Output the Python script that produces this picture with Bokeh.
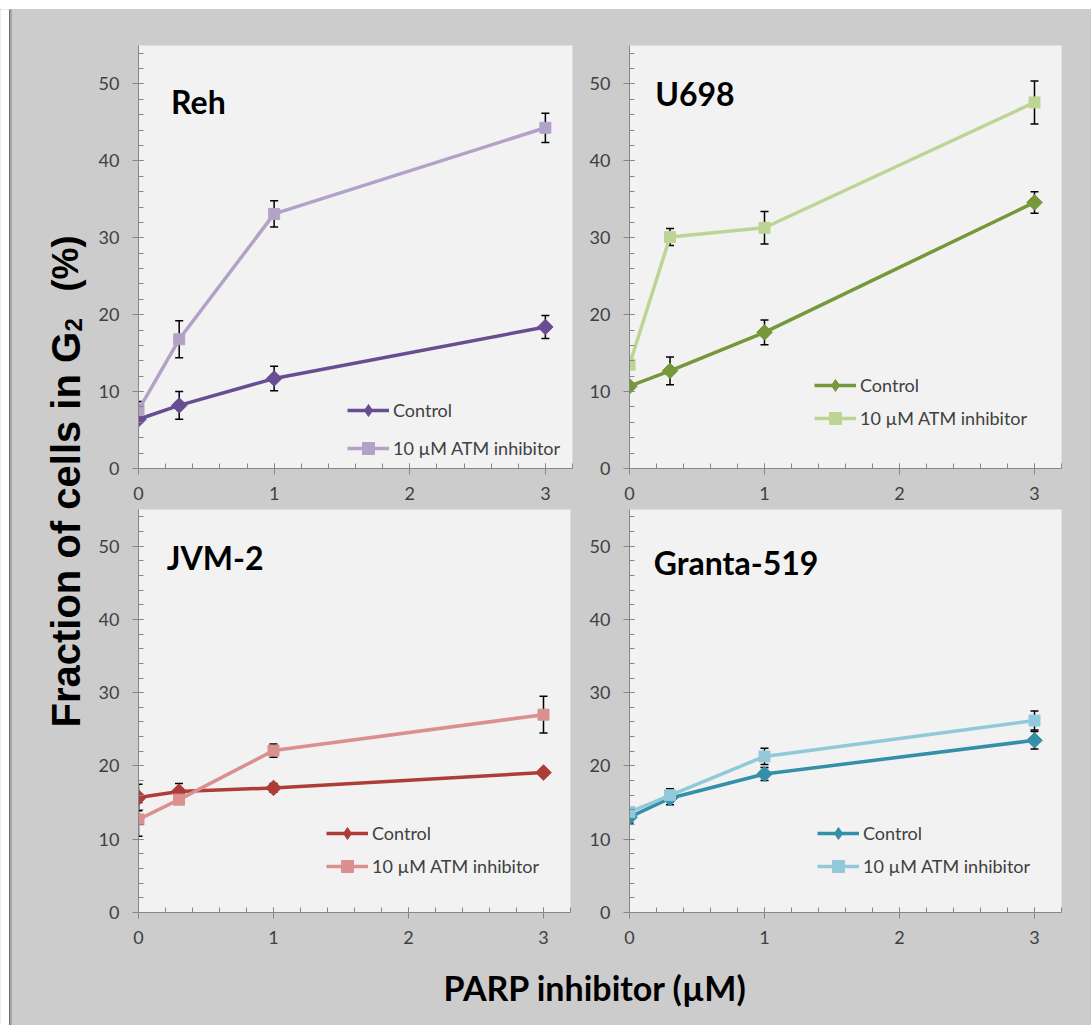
import numpy as np
from bokeh.plotting import figure
from bokeh.layouts import column, row
from bokeh.models import (Range1d, FixedTicker, Whisker, TeeHead, ColumnDataSource,
                          Label, Legend, LegendItem)
from bokeh.core.properties import value
from bokeh.embed import file_html
from bokeh.resources import INLINE

# ---------------- data ----------------
dose = [0, 0.3, 1, 3]

reh_ctrl = [6.4, 8.2, 11.7, 18.4]
reh_ctrl_err = [0.5, 1.8, 1.6, 1.5]
reh_atm = [7.6, 16.8, 33.1, 44.3]
reh_atm_err = [1.1, 2.4, 1.7, 1.9]

u698_ctrl = [10.7, 12.7, 17.7, 34.6]
u698_ctrl_err = [0.4, 1.8, 1.6, 1.4]
u698_atm = [13.5, 30.1, 31.3, 47.6]
u698_atm_err = [0.3, 1.1, 2.1, 2.8]

jvm_ctrl = [15.7, 16.5, 17.0, 19.1]
jvm_ctrl_err = [1.8, 1.1, 0.6, 0.4]
jvm_atm = [12.7, 15.4, 22.1, 27.0]
jvm_atm_err = [2.3, 0.5, 0.9, 2.5]

granta_ctrl = [13.0, 15.6, 18.9, 23.5]
granta_ctrl_err = [0.8, 0.9, 0.9, 1.2]
granta_atm = [13.7, 16.0, 21.3, 26.2]
granta_atm_err = [0.5, 0.9, 1.1, 1.3]

series_labels = ["Control", "10 \u00b5M ATM inhibitor"]
x_major = [0, 1, 2, 3]
x_minor = [round(0.2 * i, 1) for i in range(17)]
y_major = [0, 10, 20, 30, 40, 50]
y_minor = list(range(0, 56, 2))

TICK_FONT = "Lato"
BG = "#cccccc"
AX = "#868686"


def panel(title, ctrl, ctrl_err, atm, atm_err, c_ctrl, c_atm,
          title_xy, legend_loc, legend_spacing,
          mb_left, mb_right, mb_top, mb_bottom, fw, fh):
    p = figure(frame_width=fw, frame_height=fh,
               x_range=Range1d(0, 3.2), y_range=Range1d(0, 55),
               min_border_left=mb_left, min_border_right=mb_right,
               min_border_top=mb_top, min_border_bottom=mb_bottom,
               output_backend="svg", toolbar_location=None,
               background_fill_color="#f2f2f2", border_fill_color=BG,
               outline_line_color=None)
    p.grid.visible = False
    # off-frame range used only so that legend keys can show a diamond
    p.extra_x_ranges = {"key": Range1d(100, 101)}
    p.xaxis.ticker = FixedTicker(ticks=x_major, minor_ticks=x_minor)
    p.yaxis.ticker = FixedTicker(ticks=y_major, minor_ticks=y_minor)
    for ax in (p.xaxis[0], p.yaxis[0]):
        ax.axis_line_color = AX
        ax.major_tick_line_color = AX
        ax.minor_tick_line_color = AX
        ax.major_tick_out = 6
        ax.major_tick_in = 5
        ax.minor_tick_in = 5
        ax.minor_tick_out = 0
        ax.major_label_text_font = TICK_FONT
        ax.major_label_text_font_size = "18px"
        ax.major_label_text_color = "#404040"
    p.xaxis.major_label_standoff = 12
    p.yaxis.major_label_standoff = 13

    # error bars
    for vals, errs in ((ctrl, ctrl_err), (atm, atm_err)):
        src = ColumnDataSource(dict(
            base=dose,
            upper=[v + e for v, e in zip(vals, errs)],
            lower=[v - e for v, e in zip(vals, errs)]))
        w = Whisker(source=src, base="base", upper="upper", lower="lower",
                    line_color="black", line_width=1.5,
                    upper_head=TeeHead(size=8, line_color="black", line_width=1.5),
                    lower_head=TeeHead(size=8, line_color="black", line_width=1.5))
        p.add_layout(w)

    l1 = p.line(dose, ctrl, line_color=c_ctrl, line_width=3.5)
    p.scatter(dose, ctrl, marker="square", angle=np.pi / 4, size=11,
              fill_color=c_ctrl, line_color=c_ctrl)
    k1 = p.scatter(dose, ctrl, marker="diamond", size=11, x_range_name="key",
                   fill_color=c_ctrl, line_color=c_ctrl)
    l2 = p.line(dose, atm, line_color=c_atm, line_width=3.5)
    s2 = p.scatter(dose, atm, marker="square", size=11,
                   fill_color=c_atm, line_color=c_atm)

    p.add_layout(Label(x=title_xy[0], y=title_xy[1], text=title,
                       text_font="Lato", text_font_style="bold",
                       text_font_size="32px", text_color="black",
                       text_baseline="alphabetic"))

    leg = Legend(items=[LegendItem(label=series_labels[0], renderers=[l1, k1]),
                        LegendItem(label=series_labels[1], renderers=[l2, s2])],
                 location=legend_loc, orientation="vertical",
                 glyph_width=42, glyph_height=30, label_height=30,
                 spacing=legend_spacing, padding=0, margin=0,
                 label_standoff=4, border_line_color=None,
                 background_fill_alpha=0,
                 label_text_font="Lato", label_text_font_size="18px",
                 label_text_color="#404040")
    p.add_layout(leg)
    return p


tl = panel("Reh", reh_ctrl, reh_ctrl_err, reh_atm, reh_atm_err,
           "#694d92", "#b3a2c7", (0.24, 47.7), (209, 5), 8,
           48, 14, 36, 40, 434, 423)
tr = panel("U698", u698_ctrl, u698_ctrl_err, u698_atm, u698_atm_err,
           "#76983a", "#bcd595", (0.19, 48.8), (185, 35), 3,
           41, 32, 36, 40, 432, 423)
bl = panel("JVM-2", jvm_ctrl, jvm_ctrl_err, jvm_atm, jvm_atm_err,
           "#ae3d3a", "#d9908f", (0.21, 48.5), (188, 31), 3,
           48, 16, 1, 40, 432, 403)
br = panel("Granta-519", granta_ctrl, granta_ctrl_err, granta_atm, granta_atm_err,
           "#3490a8", "#92c9da", (0.18, 47.8), (188, 31), 3,
           42, 31, 1, 40, 432, 403)


def blank(w, h, xr, yr, bg=BG):
    f = figure(width=w, height=h, x_range=Range1d(*xr), y_range=Range1d(*yr),
               min_border=0, x_axis_location=None, y_axis_location=None,
               toolbar_location=None, output_backend="svg",
               background_fill_color=bg, border_fill_color=bg,
               outline_line_color=None)
    f.grid.visible = False
    return f


# top white strip with frame line
top = blank(1091, 9, (0, 1091), (0, 9), bg="white")
top.quad(left=[9], right=[1091], bottom=[1], top=[2], color="#707070")
top.quad(left=[10], right=[1091], bottom=[0], top=[1], color="#a6a6a6")

# left strip with frame line and y-axis title
left = blank(90, 1016, (0, 90), (0, 1016))
left.quad(left=[0], right=[9], bottom=[0], top=[1016], color="white")
left.quad(left=[9], right=[10], bottom=[0], top=[1016], color="#707070")
left.quad(left=[10], right=[11], bottom=[0], top=[1016], color="#a6a6a6")
left.text(x=[65], y=[1025 - 727], text=["Fraction of cells in G"], angle=np.pi / 2,
          text_font=value("Liberation Sans"), text_font_style="bold",
          text_font_size="40px", text_color="black",
          text_align="left", text_baseline="alphabetic")
left.text(x=[73], y=[1025 - 331], text=["2"], angle=np.pi / 2,
          text_font=value("Liberation Sans"), text_font_style="bold",
          text_font_size="24px", text_color="black",
          text_align="left", text_baseline="alphabetic")
left.text(x=[65], y=[1025 - 291], text=["(%)"], angle=np.pi / 2,
          text_font=value("Liberation Sans"), text_font_style="bold",
          text_font_size="36px", text_color="black",
          text_align="left", text_baseline="alphabetic")

# bottom strip with x-axis title
xlab = blank(1001, 73, (0, 1001), (0, 73))
xlab.text(x=[505], y=[1025 - 987], text=["PARP inhibitor (\u00b5M)"],
          text_font=value("Lato"), text_font_style="bold",
          text_font_size="34px", text_color="black",
          text_align="center", text_baseline="alphabetic")

bgstyle = {"background-color": BG}
r1 = row(tl, tr, styles=bgstyle)
r2 = row(bl, br, styles=bgstyle)
inner = column(r1, r2, xlab, styles=bgstyle)
body = row(left, inner, styles=bgstyle)
layout = column(top, body, styles={"background-color": "white"})

open("out.html", "w").write(file_html(layout, INLINE))
